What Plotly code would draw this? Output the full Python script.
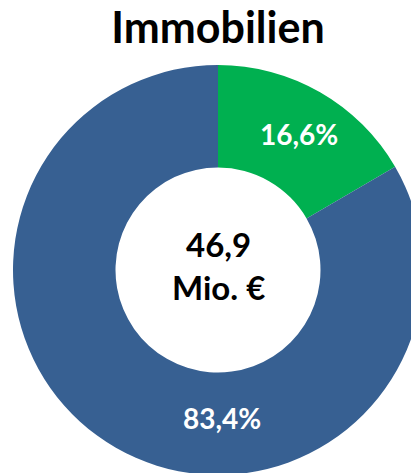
import plotly.graph_objects as go

# Daten
labels = ["Grün", "Blau"]
values = [16.6, 83.4]
colors = ["#00B050", "#376092"]
title_text = "Immobilien"
center_value = "46,9"
center_unit = "Mio. €"

W, H = 430, 480
FONT = "Lato, 'Noto Sans', sans-serif"

# Donut-Geometrie in Pixel (Mitte, Radius)
cx, cy, r = 218, 270, 205
hole = 0.5

fig = go.Figure(go.Pie(
    labels=labels, values=values, hole=hole, sort=False, direction="clockwise",
    rotation=0, marker=dict(colors=colors, line=dict(width=0)),
    textinfo="none", hoverinfo="label+percent", showlegend=False,
    domain=dict(x=[(cx - r) / W, (cx + r) / W], y=[(H - cy - r) / H, (H - cy + r) / H]),
))

def px(x, y):
    return x / W, 1 - y / H

# Prozent-Beschriftungen
pos = [(299, 134), (222, 418)]
for v, (x, y) in zip(values, pos):
    ax, ay = px(x, y)
    fig.add_annotation(x=ax, y=ay, xref="paper", yref="paper", showarrow=False,
                       xanchor="center", yanchor="middle",
                       text=f"<b>{v:.1f}%</b>".replace(".", ","),
                       font=dict(family=FONT, size=28, color="white"))

ax, ay = px(cx, 265)
fig.add_annotation(x=ax, y=ay, xref="paper", yref="paper", showarrow=False,
                   xanchor="center", yanchor="middle",
                   text=f"<b>{center_value}</b><br><b>{center_unit}</b>",
                   font=dict(family=FONT, size=33, color="black"))

fig.update_layout(
    width=W, height=H,
    margin=dict(l=0, r=0, t=0, b=0),
    paper_bgcolor="white",
    title=dict(text=f"<b>{title_text}</b>", x=cx / W, xanchor="center",
               y=1 - 28 / H, yanchor="middle", yref="container",
               font=dict(family=FONT, size=43, color="black")),
)

fig.write_html("out.html", config={"displayModeBar": False}, post_script=(
    "document.body.style.margin='0';document.body.style.overflow='hidden';"
    "document.documentElement.style.overflow='hidden';"))
